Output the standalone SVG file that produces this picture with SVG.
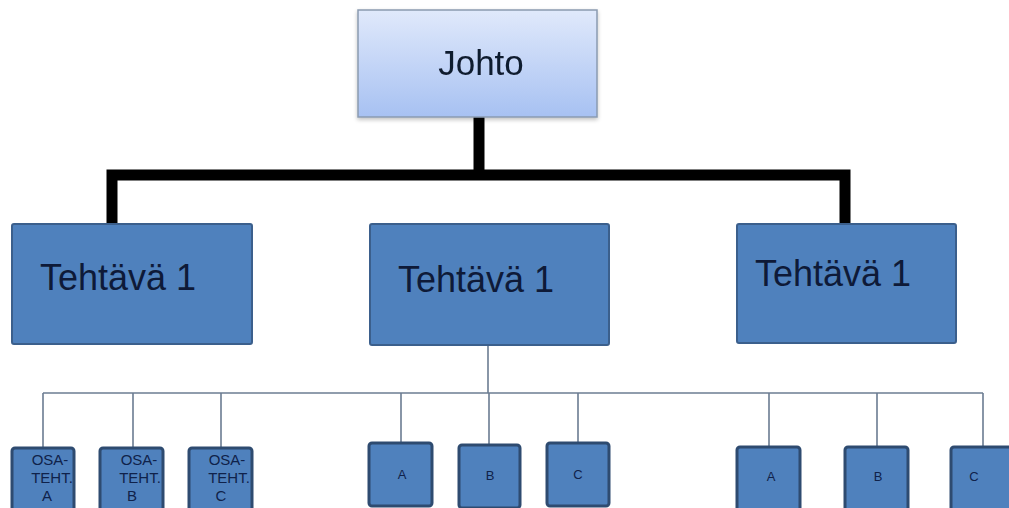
<svg xmlns="http://www.w3.org/2000/svg" width="1009" height="508" viewBox="0 0 1009 508">
  <defs>
    <linearGradient id="topFill" x1="0" y1="0" x2="0" y2="1">
      <stop offset="0" stop-color="#e0e9fb"/>
      <stop offset="1" stop-color="#a7c1f2"/>
    </linearGradient>
    <filter id="shadow" x="-10%" y="-10%" width="120%" height="130%">
      <feGaussianBlur in="SourceAlpha" stdDeviation="2"/>
      <feOffset dx="0" dy="2" result="b"/>
      <feComponentTransfer><feFuncA type="linear" slope="0.25"/></feComponentTransfer>
      <feMerge><feMergeNode/><feMergeNode in="SourceGraphic"/></feMerge>
    </filter>
  </defs>
  <style>
    .lead { fill: url(#topFill); stroke: #8a9ab0; stroke-width: 1.5; }
    .task { fill: #4f81bd; stroke: #3b5f8c; stroke-width: 2; }
    .sub { fill: #4f81bd; stroke: #2e4b70; stroke-width: 3; }
    .big { font-family: "Liberation Sans", Arial, sans-serif; font-size: 36px; fill: #0e1a38; }
    .head { font-family: "Liberation Sans", Arial, sans-serif; font-size: 35px; fill: #111a2e; }
    .lbl { font-family: "Liberation Sans", Arial, sans-serif; fill: #10224a; text-anchor: middle; }
    .thick { fill: none; stroke: #000; stroke-width: 11; stroke-linejoin: miter; }
    .thin { fill: none; stroke: #6b7c92; stroke-width: 1.6; }
  </style>
  <rect width="1009" height="508" fill="#ffffff"/>

  <!-- connectors -->
  <g id="connectors">
    <path class="thick" d="M479 117 V175"/>
    <path class="thick" d="M112 225 V175 H845 V225"/>
    <path class="thin" d="M488 345 V393"/>
    <path class="thin" d="M43 393 H983"/>
    <path class="thin" d="M43 393 V448 M133 393 V448 M221 393 V448"/>
    <path class="thin" d="M401 393 V443 M489 393 V445 M578 393 V443"/>
    <path class="thin" d="M769 393 V447 M877 393 V447 M983 393 V447"/>
  </g>

  <!-- top node -->
  <g id="johto" filter="url(#shadow)">
    <rect class="lead" x="358" y="10" width="239" height="107"/>
    <text class="head" x="481" y="75" text-anchor="middle">Johto</text>
  </g>

  <!-- second level -->
  <g id="tehtava-left">
    <rect class="task" x="12" y="224" width="240" height="120" rx="2"/>
    <text class="big" x="40" y="290">Tehtävä 1</text>
  </g>
  <g id="tehtava-mid">
    <rect class="task" x="370" y="224" width="239" height="121" rx="2"/>
    <text class="big" x="398" y="292">Tehtävä 1</text>
  </g>
  <g id="tehtava-right">
    <rect class="task" x="737" y="224" width="219" height="119" rx="2"/>
    <text class="big" x="755" y="286">Tehtävä 1</text>
  </g>

  <!-- sub-tasks, left group -->
  <g id="osa-a">
    <rect class="sub" x="12" y="448" width="62" height="70" rx="3"/>
    <text class="lbl" font-size="15"><tspan x="50" y="465">OSA-</tspan><tspan x="52" y="483">TEHT.</tspan><tspan x="47" y="501">A</tspan></text>
  </g>
  <g id="osa-b">
    <rect class="sub" x="100" y="448" width="63" height="70" rx="3"/>
    <text class="lbl" font-size="15"><tspan x="139" y="465">OSA-</tspan><tspan x="140" y="483">TEHT.</tspan><tspan x="132" y="501">B</tspan></text>
  </g>
  <g id="osa-c">
    <rect class="sub" x="189" y="448" width="63" height="70" rx="3"/>
    <text class="lbl" font-size="15"><tspan x="227" y="465">OSA-</tspan><tspan x="229" y="483">TEHT.</tspan><tspan x="221" y="501">C</tspan></text>
  </g>

  <!-- sub-tasks, middle group -->
  <g id="mid-a">
    <rect class="sub" x="369" y="443" width="63" height="63" rx="3"/>
    <text class="lbl" font-size="13" x="402" y="479">A</text>
  </g>
  <g id="mid-b">
    <rect class="sub" x="459" y="445" width="61" height="63" rx="3"/>
    <text class="lbl" font-size="13" x="490" y="480">B</text>
  </g>
  <g id="mid-c">
    <rect class="sub" x="547" y="443" width="62" height="63" rx="3"/>
    <text class="lbl" font-size="13" x="578" y="479">C</text>
  </g>

  <!-- sub-tasks, right group -->
  <g id="right-a">
    <rect class="sub" x="737" y="447" width="63" height="70" rx="3"/>
    <text class="lbl" font-size="13" x="771" y="481">A</text>
  </g>
  <g id="right-b">
    <rect class="sub" x="845" y="447" width="63" height="70" rx="3"/>
    <text class="lbl" font-size="13" x="878" y="481">B</text>
  </g>
  <g id="right-c">
    <rect class="sub" x="951" y="447" width="66" height="70" rx="3"/>
    <text class="lbl" font-size="13" x="974" y="481">C</text>
  </g>
</svg>
